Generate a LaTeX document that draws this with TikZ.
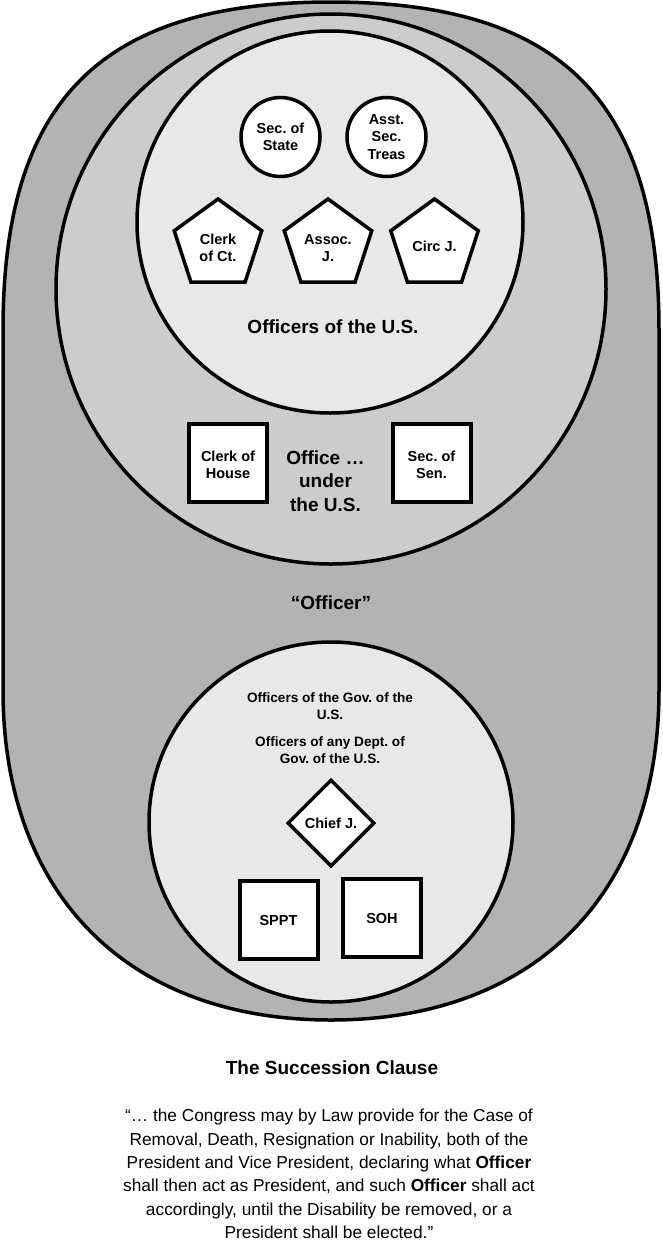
\documentclass[tikz,border=0pt]{standalone}
\usepackage{fontspec}
\setmainfont{Liberation Sans}
\usetikzlibrary{shapes.geometric}
\definecolor{outerg}{HTML}{B3B3B3}
\definecolor{midg}{HTML}{CCCCCC}
\definecolor{ing}{HTML}{E8E8E8}
\frenchspacing
\begin{document}
\begin{tikzpicture}[x=1pt,y=-1pt,
  region/.style={draw=black,line width=3.5pt},
  itemtext/.style={inner sep=0pt,align=center,font=\fontsize{14.5}{17.5}\selectfont\bfseries},
  item/.style={itemtext,draw=black,fill=white,line width=3.5pt},
  circ/.style={item,circle,minimum size=79pt},
  penta/.style={item,regular polygon,regular polygon sides=5,minimum size=92pt},
  sq/.style={item,rectangle,minimum size=78pt,line width=4pt},
  dia/.style={item,diamond,aspect=1,minimum size=87pt},
  lab/.style={align=center,font=\fontsize{19}{23.5}\selectfont\bfseries},
  small/.style={align=center,font=\fontsize{13.6}{17}\selectfont\bfseries},
]
\useasboundingbox[fill=white] (0,0) rectangle (662,1240);
% outer region
\path[region,fill=outerg] (3,330) .. controls (3,100) and (101,2) .. (331,2)
  .. controls (561,2) and (659,100) .. (659,330) -- (659,690)
  .. controls (659,895) and (534,1020) .. (331,1020)
  .. controls (128,1020) and (3,895) .. (3,690) -- cycle;
% middle region
\path[region,fill=midg] (331,289) ellipse [x radius=275pt, y radius=275pt];
% inner top region
\path[region,fill=ing] (330,222) ellipse [x radius=193pt, y radius=191pt];
% lower region
\path[region,fill=ing] (331,822) ellipse [x radius=182pt, y radius=180pt];

\node[circ] (sos) at (280.5,137) {Sec. of\\State};
\node[circ] (ast) at (386.5,137) {Asst.\\Sec.\\Treas};
\node[penta] (clk) at (218,245) {};
\node[penta] (asj) at (328,245) {};
\node[penta] (cir) at (434.5,245) {};
\node[itemtext] (clkt) at ([yshift=-3pt]clk.center) {Clerk\\of Ct.};
\node[itemtext] (asjt) at ([yshift=-3pt]asj.center) {Assoc.\\J.};
\node[itemtext] (cirt) at ([yshift=-1pt]cir.center) {Circ J.};
\node[lab] (ous) at (333,327) {Officers of the U.S.};

\node[sq] (coh) at (228,463) {};
\node[sq] (sen) at (431.5,463) {};
\node[itemtext] (coht) at ([yshift=-2pt]coh.center) {Clerk of\\House};
\node[itemtext] (sent) at ([yshift=-2pt]sen.center) {Sec. of\\Sen.};
\node[lab] (ouu) at (325.5,481) {Office …\\under\\the U.S.};

\node[lab] (off) at (331,603) {“Officer”};

\node[small] (gov) at (330,706.5) {Officers of the Gov. of the\\U.S.};
\node[small] (dep) at (330,750) {Officers of any Dept. of\\Gov. of the U.S.};
\node[dia] (cj) at (331,823) {Chief J.};
\node[sq] (sppt) at (278.5,920) {SPPT};
\node[sq] (soh) at (382,918) {SOH};

\node[lab] (title) at (332,1068) {The Succession Clause};
\node[align=center,font=\fontsize{17.3}{23.3}\selectfont] (quote) at (329,1174)
 {“… the Congress may by Law provide for the Case of\\
  Removal, Death, Resignation or Inability, both of the\\
  President and Vice President, declaring what \textbf{Officer}\\
  shall then act as President, and such \textbf{Officer} shall act\\
  accordingly, until the Disability be removed, or a\\
  President shall be elected.”};
\end{tikzpicture}
\end{document}
